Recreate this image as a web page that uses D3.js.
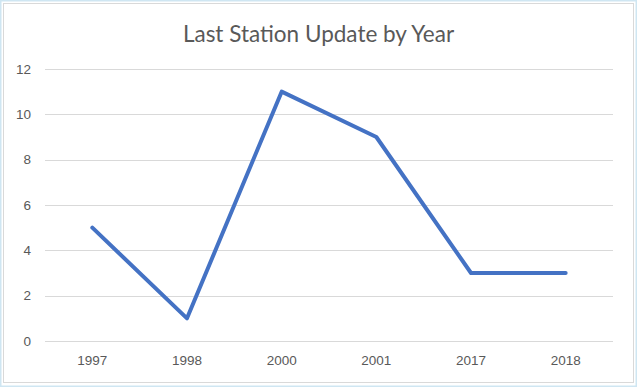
<!DOCTYPE html>
<html>
<head>
<meta charset="utf-8">
<script src="https://cdn.jsdelivr.net/npm/d3@7"></script>
<style>
  body { margin: 0; background: #fff; }
  svg { display: block; font-family: Lato, "Open Sans", sans-serif; }
</style>
</head>
<body>
<svg id="chart" width="637" height="387"></svg>
<script>
// chart data
var years = ["1997", "1998", "2000", "2001", "2017", "2018"];
var counts = [5, 1, 11, 9, 3, 3];
var yTicks = [0, 2, 4, 6, 8, 10, 12];
var title = "Last Station Update by Year";

var svg = d3.select("#chart"),
  width = +svg.attr("width"),
  height = +svg.attr("height");

var margin = {left: 45, right: 24, top: 69, bottom: 46};

// outer frame (light blue) and chart area border (grey)
svg.append("rect")
  .attr("x", 0.5).attr("y", 0.5)
  .attr("width", width - 1).attr("height", height - 1)
  .attr("fill", "none").attr("stroke", "#cfe6f2").attr("stroke-width", 2);
svg.append("rect")
  .attr("x", 3.5).attr("y", 3.5)
  .attr("width", width - 7).attr("height", height - 8)
  .attr("fill", "#fff").attr("stroke", "#d9d9d9");

var x = d3.scaleBand()
  .domain(years)
  .range([margin.left, width - margin.right]);

var y = d3.scaleLinear()
  .domain([0, 12])
  .range([height - margin.bottom, margin.top]);

// gridlines
svg.append("g")
  .attr("class", "grid")
  .selectAll("line")
  .data(yTicks)
  .enter().append("line")
  .attr("x1", margin.left)
  .attr("x2", width - margin.right)
  .attr("y1", function(d) { return Math.round(y(d)) + 0.5; })
  .attr("y2", function(d) { return Math.round(y(d)) + 0.5; })
  .attr("stroke", "#d9d9d9")
  .attr("stroke-width", 1);

// y axis labels
var yAxis = svg.append("g")
  .attr("transform", "translate(" + (margin.left - 14) + ",0)")
  .call(d3.axisLeft(y).tickValues(yTicks).tickSize(0).tickPadding(0));
yAxis.select(".domain").remove();
yAxis.selectAll("text")
  .attr("fill", "#595959")
  .attr("font-size", "13.5px");

// x axis labels
var xAxis = svg.append("g")
  .attr("transform", "translate(0," + (height - margin.bottom) + ")")
  .call(d3.axisBottom(x).tickSize(0).tickPadding(14));
xAxis.select(".domain").remove();
xAxis.selectAll("text")
  .attr("fill", "#595959")
  .attr("font-size", "13.5px");

// the line
var line = d3.line()
  .x(function(d, i) { return x(years[i]) + x.bandwidth() / 2; })
  .y(function(d) { return y(d); });

svg.append("path")
  .datum(counts)
  .attr("d", line)
  .attr("fill", "none")
  .attr("stroke", "#4472c4")
  .attr("stroke-width", 4)
  .attr("stroke-linejoin", "round")
  .attr("stroke-linecap", "round");

// title
svg.append("text")
  .attr("x", width / 2)
  .attr("y", 42)
  .attr("text-anchor", "middle")
  .attr("fill", "#595959")
  .attr("font-size", "22.5px")
  .text(title);
</script>
</body>
</html>
